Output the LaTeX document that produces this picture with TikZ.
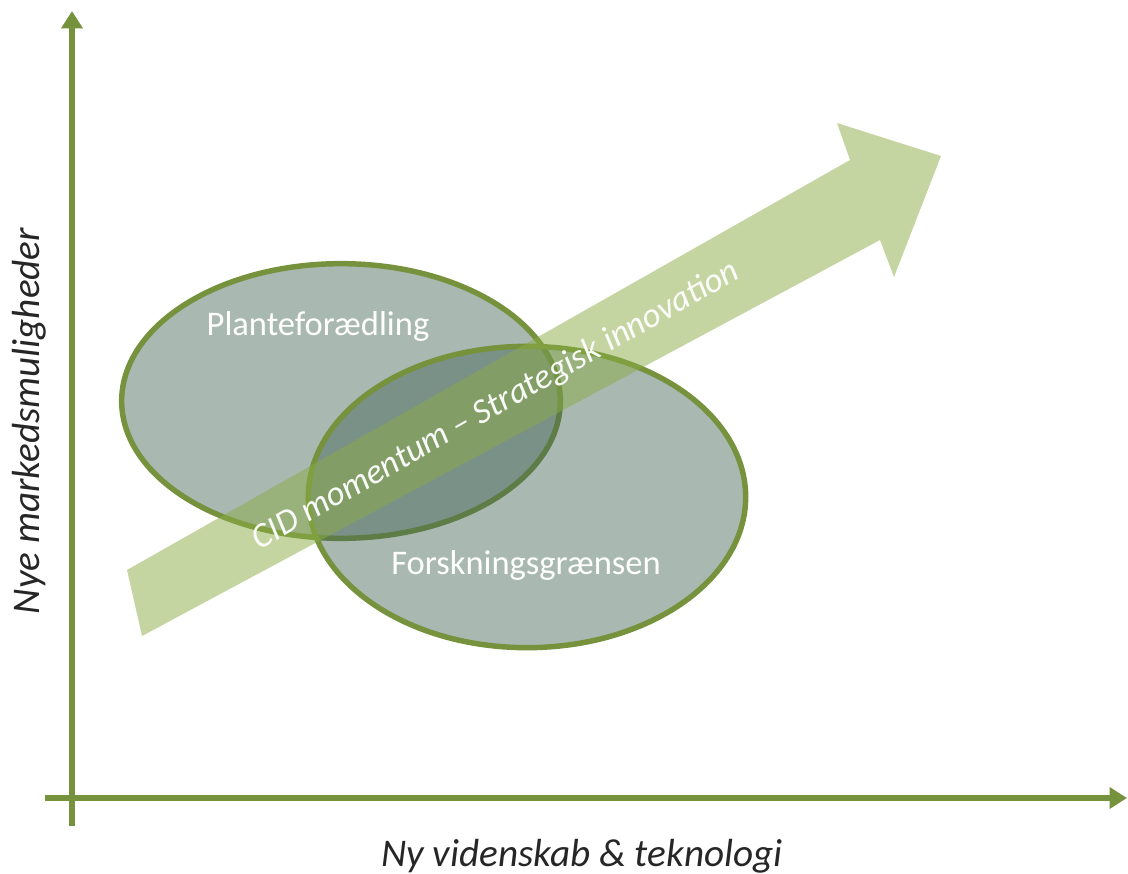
\documentclass[tikz,border=0pt]{standalone}
\usepackage{fontspec}
\setmainfont{Carlito}
\usetikzlibrary{shapes.geometric,arrows.meta}
\definecolor{axisgreen}{RGB}{118,146,60}
\definecolor{ringgreen}{RGB}{118,146,60}
\definecolor{blobfill}{RGB}{65,98,83}
\definecolor{bandgreen}{RGB}{138,172,70}
\definecolor{labelgray}{RGB}{38,38,38}
\tikzset{
  axisline/.style={draw=axisgreen, line width=4.5pt, -{Triangle[length=13pt,width=15.5pt]}},
  blob/.style={ellipse, draw=ringgreen, line width=4.1pt, fill=blobfill, fill opacity=0.45, draw opacity=1, inner sep=0pt},
  blobtext/.style={text=white, font=\fontsize{25.9}{30}\selectfont, inner sep=0pt, anchor=base},
  bandtext/.style={text=white, text opacity=0.95, font=\fontsize{26.2}{30}\selectfont\itshape, inner sep=0pt},
  axistext/.style={text=labelgray, font=\fontsize{29.4}{34}\selectfont\itshape, inner sep=0pt, anchor=base},
}
\begin{document}
\begin{tikzpicture}[x=0.75pt,y=-0.75pt]
\useasboundingbox (0,0) rectangle (1128,874);
% axes
\coordinate (vbot) at (72,826);
\coordinate (vtop) at (72,11);
\coordinate (hleft) at (45,798);
\coordinate (hright) at (1127,798);
\draw[axisline] (vbot) -- (vtop);
\draw[axisline] (hleft) -- (hright);
% ellipses
\node[blob, minimum width=329pt, minimum height=206pt] (plant) at (341,401) {};
\node[blob, minimum width=328pt, minimum height=226pt] (forsk) at (527,497) {};
\node[blobtext] (plantlabel) at (318,335) {Planteforædling};
\node[blobtext] (forsklabel) at (526,574) {Forskningsgrænsen};
% big arrow
\fill[bandgreen, fill opacity=0.5]
  (127,570) -- (850,160) -- (837,123) -- (941,156) -- (894,277) -- (880,240) -- (142,636) -- cycle;
\node[bandtext, rotate=29.5] (bandlabel) at (496,406) {CID momentum – Strategisk innovation};
% axis labels
\node[axistext] (xlabel) at (582,866) {Ny videnskab \& teknologi};
\node[axistext, rotate=90] (ylabel) at (39,421) {Nye markedsmuligheder};
\end{tikzpicture}
\end{document}
